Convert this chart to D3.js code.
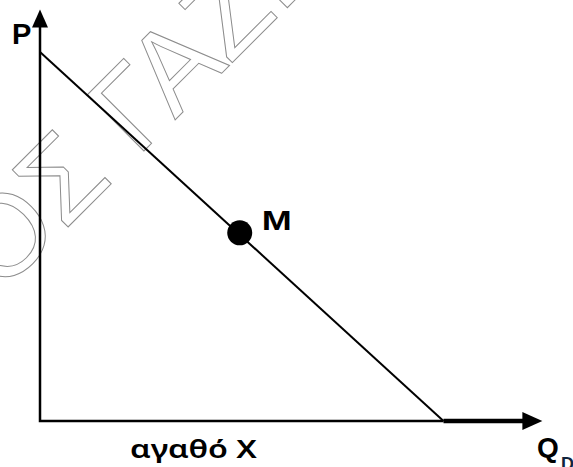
<!DOCTYPE html>
<html>
<head>
<meta charset="utf-8">
<script src="https://cdn.jsdelivr.net/npm/d3@7"></script>
<style>
  html, body { margin: 0; padding: 0; background: #fff; }
  svg { display: block; }
</style>
</head>
<body>
<div id="root"></div>
<script>
const W = 573, H = 467;

// demand curve intercepts (quantity, price)
const demand = [[0, 10], [10, 0]];
// point M on the curve
const pointM = [[4.95, 5.1]];
// axis extents (arrow tips)
const qMax = 12.45;
const pMax = 11.15;
// labels
const axisLabels = ['P', 'Q', 'D'];
const pointLabels = ['M'];
const goodLabel = ['αγαθό Χ'];
const watermark = ['ΟΣ ΓΑΖΙ'];

const x = d3.scaleLinear().domain([0, 10]).range([40, 443.5]);
const y = d3.scaleLinear().domain([0, 10]).range([421, 52]);

const svg = d3.select('#root')
  .append('svg')
  .attr('width', W)
  .attr('height', H);

// watermark (outlined, rotated)
svg.append('g')
  .selectAll('text')
  .data(watermark)
  .join('text')
  .attr('transform', 'translate(0,295) rotate(-45)')
  .attr('font-family', 'Liberation Sans, Arial, sans-serif')
  .attr('font-size', 116)
  .attr('fill', 'none')
  .attr('stroke', '#8c8c8c')
  .attr('stroke-width', 1)
  .text(d => d);

// axes
const axes = d3.path();
axes.moveTo(x(0), y(pMax) + 16);
axes.lineTo(x(0), y(0));
axes.lineTo(x(10), y(0));
svg.append('path')
  .attr('d', axes.toString())
  .attr('fill', 'none')
  .attr('stroke', '#000')
  .attr('stroke-width', 2.5)
  .attr('stroke-linejoin', 'miter');

// thick part of the quantity axis beyond the intercept
svg.append('line')
  .attr('x1', x(10))
  .attr('x2', x(qMax) - 18)
  .attr('y1', y(0))
  .attr('y2', y(0))
  .attr('stroke', '#000')
  .attr('stroke-width', 4.5);

// arrowheads
const up = d3.path();
up.moveTo(x(0), y(pMax));
up.lineTo(x(0) + 8, y(pMax) + 18);
up.lineTo(x(0) - 8, y(pMax) + 18);
up.closePath();
svg.append('path').attr('d', up.toString()).attr('fill', '#000');

const right = d3.path();
right.moveTo(x(qMax), y(0));
right.lineTo(x(qMax) - 20, y(0) - 9);
right.lineTo(x(qMax) - 20, y(0) + 9);
right.closePath();
svg.append('path').attr('d', right.toString()).attr('fill', '#000');

// demand line
svg.append('path')
  .datum(demand)
  .attr('d', d3.line().x(d => x(d[0])).y(d => y(d[1])))
  .attr('fill', 'none')
  .attr('stroke', '#000')
  .attr('stroke-width', 2);

// point M
svg.selectAll('circle.m')
  .data(pointM)
  .join('circle')
  .attr('class', 'm')
  .attr('cx', d => x(d[0]))
  .attr('cy', d => y(d[1]))
  .attr('r', 12.5)
  .attr('fill', '#000');

svg.selectAll('text.m')
  .data(pointLabels)
  .join('text')
  .attr('class', 'm')
  .attr('x', x(pointM[0][0]) + 22)
  .attr('y', y(pointM[0][1]) - 3)
  .attr('font-family', 'Liberation Sans, Arial, sans-serif')
  .attr('font-weight', 'bold')
  .attr('font-size', 28)
  .attr('textLength', 30)
  .attr('lengthAdjust', 'spacingAndGlyphs')
  .text(d => d);

// axis labels
svg.append('text')
  .attr('x', 12)
  .attr('y', 44)
  .attr('font-family', 'Liberation Sans, Arial, sans-serif')
  .attr('font-weight', 'bold')
  .attr('font-size', 29)
  .text(axisLabels[0]);

svg.append('text')
  .attr('x', 537)
  .attr('y', 457)
  .attr('font-family', 'Liberation Sans, Arial, sans-serif')
  .attr('font-weight', 'bold')
  .attr('font-size', 28)
  .text(axisLabels[1]);

svg.append('text')
  .attr('x', 561)
  .attr('y', 470)
  .attr('font-family', 'Liberation Sans, Arial, sans-serif')
  .attr('font-weight', 'bold')
  .attr('font-size', 18)
  .attr('fill', '#10243d')
  .text(axisLabels[2]);

svg.selectAll('text.good')
  .data(goodLabel)
  .join('text')
  .attr('class', 'good')
  .attr('x', 130)
  .attr('y', 458)
  .attr('font-family', 'Noto Sans, sans-serif')
  .attr('font-weight', 600)
  .attr('font-size', 25)
  .attr('textLength', 127)
  .attr('lengthAdjust', 'spacingAndGlyphs')
  .text(d => d);
</script>
</body>
</html>
